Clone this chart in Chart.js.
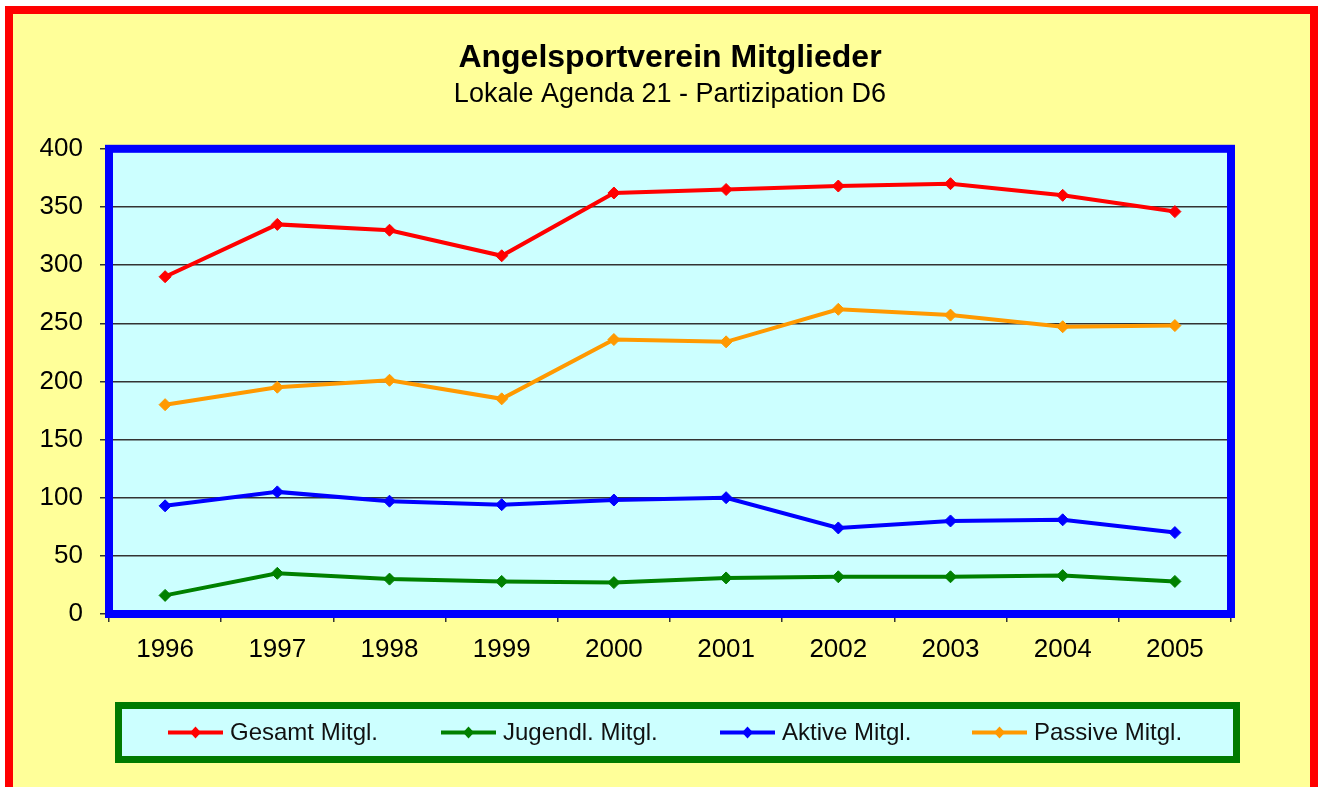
<!DOCTYPE html>
<html>
<head>
<meta charset="utf-8">
<script src="https://cdn.jsdelivr.net/npm/chart.js@4.4.0/dist/chart.umd.min.js"></script>
<style>
  html, body { margin: 0; padding: 0; background: #fff; }
  #wrap { position: absolute; left: 0; top: 0; width: 1321px; height: 787px; }
</style>
</head>
<body>
<div id="wrap"><canvas id="chart" width="1321" height="787"></canvas></div>
<script>
// data
const years = ['1996', '1997', '1998', '1999', '2000', '2001', '2002', '2003', '2004', '2005'];
const gesamt = [290, 335, 330, 308, 362, 365, 368, 370, 360, 346];
const jugend = [16, 35, 30, 28, 27, 31, 32, 32, 33, 28];
const aktive = [93, 105, 97, 94, 98, 100, 74, 80, 81, 70];
const passive = [180, 195, 201, 185, 236, 234, 262, 257, 247, 248];
const seriesLabels = ['Gesamt Mitgl.', 'Jugendl. Mitgl.', 'Aktive Mitgl.', 'Passive Mitgl.'];
const seriesColors = ['#FF0000', '#008000', '#0000FF', '#FF9900'];
const yMin = 0, yMax = 400, yStep = 50;

const FONT = "'Liberation Sans', Arial, sans-serif";

function makeSet(label, values, color) {
  return {
    label: label,
    data: values,
    borderColor: color,
    backgroundColor: color,
    borderWidth: 4,
    pointStyle: 'rectRot',
    pointRadius: 6,
    pointBorderWidth: 1,
    pointBackgroundColor: color,
    pointBorderColor: color,
    tension: 0
  };
}

// yellow page, red frame, cyan plot area with blue border
const framePlugin = {
  id: 'frame',
  beforeDraw(chart) {
    const ctx = chart.ctx;
    const a = chart.chartArea;
    ctx.save();
    ctx.fillStyle = '#FFFFFF';
    ctx.fillRect(0, 0, chart.width, chart.height);
    ctx.fillStyle = '#FFFF99';
    ctx.fillRect(5, 6, 1313, chart.height);
    ctx.strokeStyle = '#FF0000';
    ctx.lineWidth = 8;
    ctx.strokeRect(9, 10, 1305, chart.height + 20);
    ctx.fillStyle = '#CCFFFF';
    ctx.fillRect(a.left, a.top, a.right - a.left, a.bottom - a.top);
    ctx.restore();
  },
  beforeDatasetsDraw(chart) {
    const ctx = chart.ctx;
    const a = chart.chartArea;
    ctx.save();
    ctx.strokeStyle = '#0000FF';
    ctx.lineWidth = 8;
    ctx.strokeRect(a.left, a.top, a.right - a.left, a.bottom - a.top);
    ctx.restore();
  }
};

// boxed legend under the x axis
const legendBox = { left: 118.5, top: 705.5, width: 1118, height: 54 };
const legendItemX = [168, 441, 720, 972];

const boxLegendPlugin = {
  id: 'boxLegend',
  afterDraw(chart) {
    const ctx = chart.ctx;
    const b = legendBox;
    ctx.save();
    ctx.fillStyle = '#CCFFFF';
    ctx.fillRect(b.left, b.top, b.width, b.height);
    ctx.strokeStyle = '#007A00';
    ctx.lineWidth = 7;
    ctx.strokeRect(b.left, b.top, b.width, b.height);

    const y = b.top + b.height / 2;
    chart.data.datasets.forEach((ds, i) => {
      const x = legendItemX[i];
      ctx.strokeStyle = ds.borderColor;
      ctx.lineWidth = 4;
      ctx.beginPath();
      ctx.moveTo(x, y);
      ctx.lineTo(x + 55, y);
      ctx.stroke();
      ctx.fillStyle = ds.borderColor;
      ctx.beginPath();
      ctx.moveTo(x + 27.5, y - 6);
      ctx.lineTo(x + 33, y);
      ctx.lineTo(x + 27.5, y + 6);
      ctx.lineTo(x + 22, y);
      ctx.closePath();
      ctx.fill();
      ctx.fillStyle = '#111';
      ctx.font = '24px ' + FONT;
      ctx.textBaseline = 'middle';
      ctx.textAlign = 'left';
      ctx.fillText(ds.label, x + 62, y + 1);
    });
    ctx.restore();
  }
};

new Chart(document.getElementById('chart'), {
  type: 'line',
  data: {
    labels: years,
    datasets: [
      makeSet(seriesLabels[0], gesamt, seriesColors[0]),
      makeSet(seriesLabels[1], jugend, seriesColors[1]),
      makeSet(seriesLabels[2], aktive, seriesColors[2]),
      makeSet(seriesLabels[3], passive, seriesColors[3])
    ]
  },
  options: {
    responsive: false,
    animation: false,
    layout: { padding: { top: 0, left: 0, right: 90, bottom: 0 } },
    plugins: {
      legend: { display: false },
      tooltip: { enabled: false },
      title: {
        display: true,
        text: 'Angelsportverein Mitglieder',
        fullSize: false,
        color: '#000',
        font: { family: FONT, size: 32, weight: 'bold' },
        padding: { top: 39, bottom: 0 }
      },
      subtitle: {
        display: true,
        text: 'Lokale Agenda 21 - Partizipation D6',
        fullSize: false,
        color: '#000',
        font: { family: FONT, size: 27 },
        padding: { top: 1, bottom: 38 }
      }
    },
    scales: {
      x: {
        offset: true,
        afterFit(scale) { scale.height = 173; },
        grid: {
          offset: true,
          drawOnChartArea: false,
          drawTicks: true,
          tickLength: 8,
          color: '#333',
          lineWidth: 1.5
        },
        border: { display: false },
        ticks: {
          color: '#000',
          padding: 12,
          font: { family: FONT, size: 26 }
        }
      },
      y: {
        min: yMin,
        max: yMax,
        afterFit(scale) { scale.width = 109; },
        grid: {
          color: '#333',
          lineWidth: 1.5,
          drawTicks: true,
          tickLength: 9
        },
        border: { display: false },
        ticks: {
          stepSize: yStep,
          color: '#000',
          padding: 17,
          font: { family: FONT, size: 26 }
        }
      }
    }
  },
  plugins: [framePlugin, boxLegendPlugin]
});
</script>
</body>
</html>
